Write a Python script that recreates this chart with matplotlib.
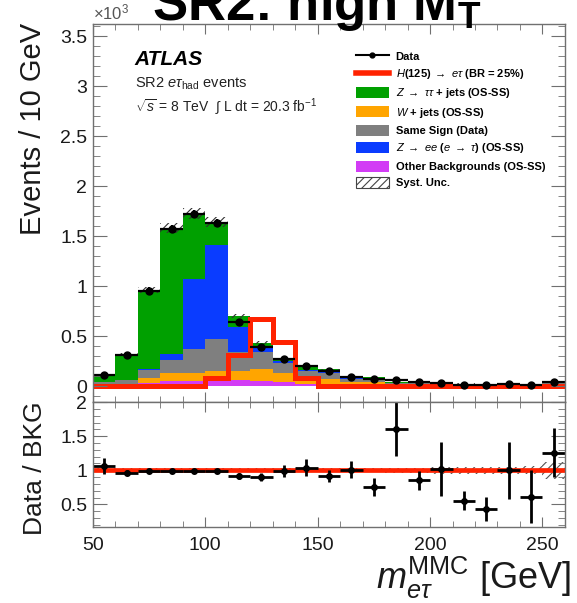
import numpy as np
import matplotlib
matplotlib.use('Agg')
from matplotlib import pyplot as plt
from matplotlib.ticker import MultipleLocator, FuncFormatter
from matplotlib.patches import Patch
from matplotlib.lines import Line2D

plt.rc('font', family=['Liberation Sans', 'DejaVu Sans'])
plt.rc('mathtext', fontset='custom', rm='Liberation Sans', it='Liberation Sans:italic',
       bf='Liberation Sans:bold', sf='Liberation Sans')
plt.rc('hatch', linewidth=0.8)

# 10 GeV bins, 50-260 GeV
bin_edges = np.arange(50, 270, 10)
bin_centers = bin_edges[:-1] + 5

data_counts = [110, 310, 955, 1570, 1717, 1627, 640, 393, 270, 200, 153,
               93, 67, 60, 43, 31, 14, 9, 17, 9, 40]

# backgrounds, stacked bottom -> top
other_bkg = [8, 10, 30, 55, 50, 55, 60, 55, 40, 25, 20, 10, 8, 4, 5, 3, 2, 2, 2, 1, 3]
wjets = [10, 15, 50, 80, 85, 95, 90, 117, 90, 55, 55, 30, 30, 12, 16, 10, 8, 7, 5, 5, 10]
same_sign = [20, 35, 80, 130, 240, 325, 193, 171, 97, 70, 60, 35, 35, 14, 20, 12, 10, 8, 7, 6, 13]
zee = [2, 5, 10, 60, 700, 935, 247, 34, 20, 15, 12, 7, 5, 3, 3, 2, 2, 1, 1, 1, 2]
ztautau = [64, 255, 790, 1253, 650, 230, 107, 58, 27, 27, 21, 10, 10, 4, 6, 3, 3, 3, 2, 2, 4]

# H(125) -> e tau, BR = 25%
signal = [0, 0, 0, 0, 5, 85, 310, 670, 445, 80, 0, 0, 0, 0, 0, 0, 0, 0, 0, 0, 0]

# Data / BKG
ratio = [1.06, 0.966, 0.995, 0.995, 0.995, 0.99, 0.918, 0.903, 0.986, 1.04, 0.913,
         1.01, 0.76, 1.61, 0.855, 1.02, 0.556, 0.435, 1.0, 0.614, 1.256]
ratio_err = [0.12, 0.04, 0.025, 0.02, 0.02, 0.025, 0.04, 0.06, 0.09, 0.12, 0.09,
             0.12, 0.13, 0.40, 0.14, 0.39, 0.14, 0.17, 0.42, 0.39, 0.36]
syst_rel = [0.03, 0.03, 0.03, 0.03, 0.03, 0.03, 0.03, 0.03, 0.03, 0.03, 0.03,
            0.03, 0.03, 0.04, 0.04, 0.05, 0.05, 0.05, 0.05, 0.06, 0.12]

components = [
    (other_bkg, '#d23cf5', 'Other Backgrounds (OS-SS)'),
    (wjets, '#ffa500', '$W$ + jets (OS-SS)'),
    (same_sign, '#7f7f7f', 'Same Sign (Data)'),
    (zee, '#0a3cff', r'$Z$ $\rightarrow$ $ee$ ($e$ $\rightarrow$ $\tau$) (OS-SS)'),
    (ztautau, '#00a000', r'$Z$ $\rightarrow$ $\tau\tau$ + jets (OS-SS)'),
]

frame_col = '#707070'
label_col = '#1a1a1a'

fig = plt.figure(figsize=(5.77, 6.03), dpi=100)
ax = fig.add_axes([0.161, 0.3333, 0.818, 0.6269])
rax = fig.add_axes([0.161, 0.126, 0.818, 0.2073], sharex=ax)

# stacked histogram
bottom = np.zeros(len(bin_centers))
for values, colour, name in components:
    values = np.array(values, dtype=float)
    ax.bar(bin_centers, values, width=10, bottom=bottom, color=colour, linewidth=0)
    bottom = bottom + values
total_bkg = bottom

# systematic band
syst = total_bkg * np.array(syst_rel)
ax.bar(bin_centers, 2 * syst, width=10, bottom=total_bkg - syst, fill=False,
       hatch='////', edgecolor='#333333', linewidth=0)

# signal
ax.stairs(signal, bin_edges, baseline=None, color='#ff2200', linewidth=3.6)

# data
data_counts = np.array(data_counts, dtype=float)
ax.errorbar(bin_centers, data_counts, yerr=np.sqrt(data_counts), xerr=5, fmt='o',
            color='black', markersize=5, elinewidth=1.6, capsize=0)

ax.set_xlim(50, 260)
ax.set_ylim(-160, 3620)
ax.yaxis.set_major_locator(MultipleLocator(500))
ax.yaxis.set_minor_locator(MultipleLocator(100))
ax.yaxis.set_major_formatter(FuncFormatter(lambda v, p: '%g' % (v / 1000)))
ax.xaxis.set_major_locator(MultipleLocator(50))
ax.xaxis.set_minor_locator(MultipleLocator(10))
ax.tick_params(axis='x', labelbottom=False)

# ratio panel
rax.bar(bin_centers, 2 * np.array(syst_rel), width=10, bottom=1 - np.array(syst_rel),
        fill=False, hatch='////', edgecolor='#555555', linewidth=0)
rax.axhline(1, color='#ff2200', linewidth=3.4)
rax.errorbar(bin_centers, ratio, yerr=ratio_err, xerr=5, fmt='o', color='black',
             markersize=4, elinewidth=2.0, capsize=0)
rax.set_ylim(0.17, 2.0)
rax.yaxis.set_major_locator(MultipleLocator(0.5))
rax.yaxis.set_minor_locator(MultipleLocator(0.1))
rax.yaxis.set_major_formatter(FuncFormatter(lambda v, p: '%g' % v))

for a in (ax, rax):
    for s in a.spines.values():
        s.set_color(frame_col)
        s.set_linewidth(1.0)
    a.tick_params(which='both', direction='in', top=True, right=True,
                  colors=frame_col, labelcolor=label_col, labelsize=14)
    a.tick_params(axis='y', which='major', length=10, pad=4)
    a.tick_params(axis='y', which='minor', length=5)
    a.tick_params(axis='x', which='major', length=7, pad=7)
    a.tick_params(axis='x', which='minor', length=4)

# legend: data, signal, then backgrounds top -> bottom, then syst
handles = [Line2D([], [], color='black', marker='o', markersize=3.5, linewidth=1.5),
           Line2D([], [], color='#ff2200', linewidth=4)]
labels = ['Data', r'$H$(125) $\rightarrow$ $e\tau$ (BR = 25%)']
for i in [4, 1, 2, 3, 0]:
    handles.append(Patch(facecolor=components[i][1], edgecolor='none'))
    labels.append(components[i][2])
handles.append(Patch(facecolor='white', edgecolor='#444444', hatch='////', linewidth=0.8))
labels.append('Syst. Unc.')
ax.legend(handles, labels, loc='upper left', bbox_to_anchor=(0.545, 0.944),
          frameon=False, borderpad=0, handlelength=3.0, handleheight=1.15,
          handletextpad=0.6, labelspacing=0.47,
          prop={'size': 8, 'weight': 'bold'})

# labels on the pad
ax.text(0.089, 0.892, 'ATLAS', transform=ax.transAxes, fontsize=15,
        fontweight='bold', fontstyle='italic', va='baseline')
ax.text(0.089, 0.833, r'SR2 $e\tau_{\mathrm{had}}$ events', transform=ax.transAxes,
        fontsize=10.5, va='baseline', color='#222222')
ax.text(0.089, 0.767, r'$\sqrt{s}$ = 8 TeV  $\int$ L dt = 20.3 fb$^{-1}$',
        transform=ax.transAxes, fontsize=10, va='baseline', color='#222222')

fig.text(0.161, 0.967, r'$\times$10$^{3}$', fontsize=12, color='#555555', va='baseline')
fig.text(0.548, 0.967, r'SR2: high M$_{\mathbf{T}}$', fontsize=38, fontweight='bold',
         ha='center', va='baseline')
fig.text(0.057, 0.786, 'Events / 10 GeV', rotation=90, fontsize=21, ha='center',
         va='center', color=label_col)
fig.text(0.061, 0.224, 'Data / BKG', rotation=90, fontsize=19, ha='center',
         va='center', color=label_col)
fig.text(0.99, 0.024, r'$m_{e\tau}^{\mathrm{MMC}}$ [GeV]', fontsize=26, ha='right',
         va='baseline', color=label_col)

plt.savefig('out.png', dpi=100)
